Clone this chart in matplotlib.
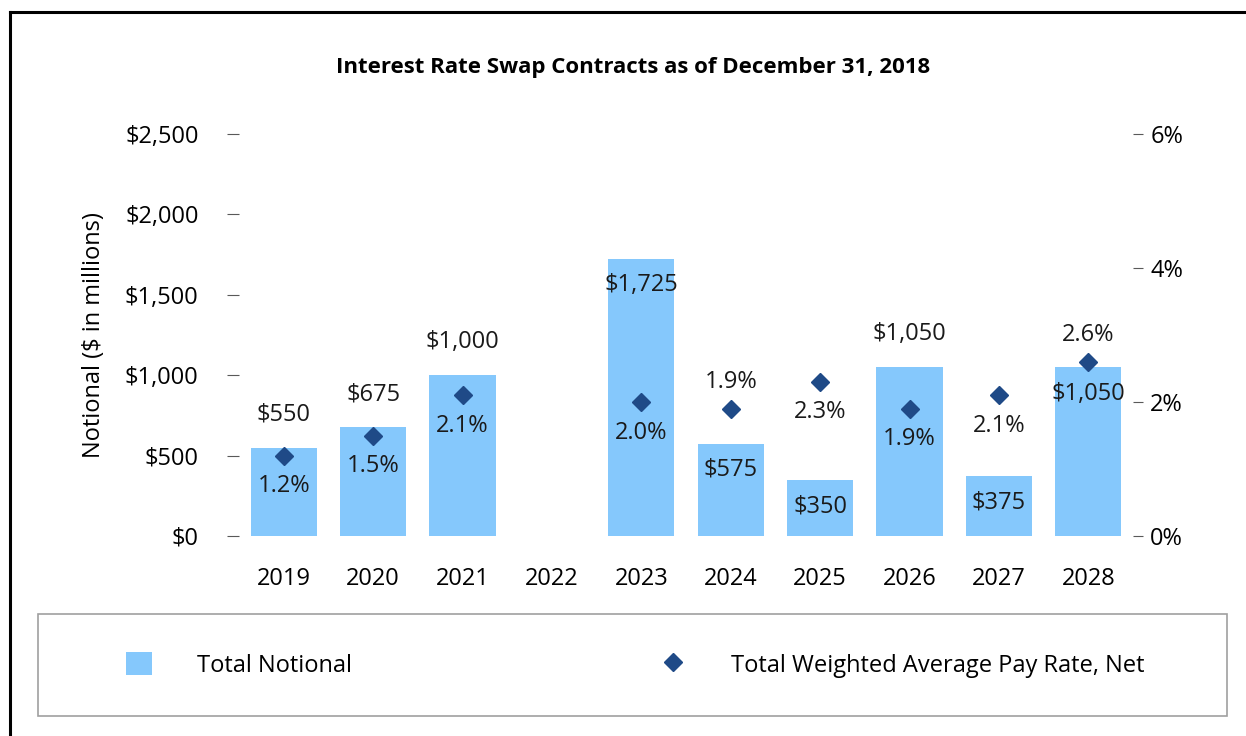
import matplotlib
matplotlib.use("Agg")
import matplotlib.pyplot as plt
from matplotlib.lines import Line2D
from matplotlib.patches import Patch, Rectangle
import numpy as np

years = ["2019", "2020", "2021", "2022", "2023", "2024", "2025", "2026", "2027", "2028"]
notional = [550, 675, 1000, 0, 1725, 575, 350, 1050, 375, 1050]
pay_rate = [1.2, 1.5, 2.1, np.nan, 2.0, 1.9, 2.3, 1.9, 2.1, 2.6]
notional_label_place = ["above", "above", "above", None, "inside", "inside", "inside", "above", "inside", "inside"]
rate_label_place = ["below", "below", "below", None, "below", "above", "below", "below", "below", "above"]
left_ticks = [0, 500, 1000, 1500, 2000, 2500]
right_ticks = [0, 2, 4, 6]

FONT = "Open Sans"
BAR_COLOR = "#85C8FC"
DIAMOND_COLOR = "#1F4A87"
FS = 17
W, H = 1246, 736

plt.rcParams["font.family"] = [FONT, "DejaVu Sans"]

fig = plt.figure(figsize=(W / 100, H / 100), dpi=100)
ax = fig.add_axes([239 / W, (H - 536) / H, (1133 - 239) / W, (536 - 134) / H])
ax2 = ax.twinx()

x = np.arange(len(years))
ax.bar(x, notional, width=0.74, color=BAR_COLOR, zorder=2)
ax2.plot(x, pay_rate, linestyle="none", marker="D", markersize=9,
         color=DIAMOND_COLOR, zorder=3)

ax.set_xlim(-0.5, len(years) - 0.5)
ax.set_ylim(0, 2500)
ax2.set_ylim(0, 6)

ax.set_yticks(left_ticks)
ax.set_yticklabels([f"${v:,}" for v in left_ticks])
ax2.set_yticks(right_ticks)
ax2.set_yticklabels([f"{v}%" for v in right_ticks])
ax.set_xticks(x)
ax.set_xticklabels(years)

for a in (ax, ax2):
    for s in a.spines.values():
        s.set_visible(False)
ax.tick_params(axis="y", direction="out", length=9, width=0.8, color="#595959",
               pad=20, labelsize=FS)
ax2.tick_params(axis="y", direction="out", length=7.5, width=0.8, color="#595959",
                pad=5, labelsize=FS)
ax.tick_params(axis="x", length=0, pad=22, labelsize=FS)

ax.set_ylabel("Notional ($ in millions)", fontsize=FS, labelpad=14)

# data labels
for xi, v, place in zip(x, notional, notional_label_place):
    if place is None:
        continue
    off = 24 if place == "above" else -19
    ax.annotate(f"${v:,}", (xi, v), xytext=(0, off), textcoords="offset points",
                ha="center", va="center", fontsize=FS, color="#1a1a1a", zorder=5)
for xi, r, place in zip(x, pay_rate, rate_label_place):
    if place is None:
        continue
    off = 19 if place == "above" else -22
    ax2.annotate(f"{r:.1f}%", (xi, r), xytext=(0, off), textcoords="offset points",
                 ha="center", va="center", fontsize=FS, color="#1a1a1a", zorder=5)

fig.text(633 / W, 1 - 67 / H, "Interest Rate Swap Contracts as of December 31, 2018",
         ha="center", va="center", fontsize=16, fontweight="bold")

# legend box
fig.patches.append(Rectangle((38 / W, (H - 716) / H), (1227 - 38) / W, (716 - 614) / H,
                             transform=fig.transFigure, fill=False, edgecolor="#A0A0A0",
                             linewidth=1.2))
h1 = Patch(facecolor=BAR_COLOR, edgecolor="none")
h2 = Line2D([], [], linestyle="none", marker="D", markersize=9, color=DIAMOND_COLOR)
fig.legend([h1], ["Total Notional"], loc="center left",
           bbox_to_anchor=(126 / W, 1 - 665 / H), frameon=False, fontsize=FS,
           borderpad=0, borderaxespad=0, handlelength=1.1, handleheight=1.1,
           handletextpad=1.9)
fig.legend([h2], ["Total Weighted Average Pay Rate, Net"], loc="center left",
           bbox_to_anchor=(660 / W, 1 - 665 / H), frameon=False, fontsize=FS,
           borderpad=0, borderaxespad=0, handlelength=1.1, handleheight=1.1,
           handletextpad=1.9)

# outer border lines (top and left)
fig.add_artist(Line2D([10 / W, 10 / W], [0, 1 - 12 / H], transform=fig.transFigure,
                      color="black", linewidth=2.2))
fig.add_artist(Line2D([10 / W, 1], [1 - 12 / H, 1 - 12 / H], transform=fig.transFigure,
                      color="black", linewidth=2.2))

fig.savefig("out.png", dpi=100)
